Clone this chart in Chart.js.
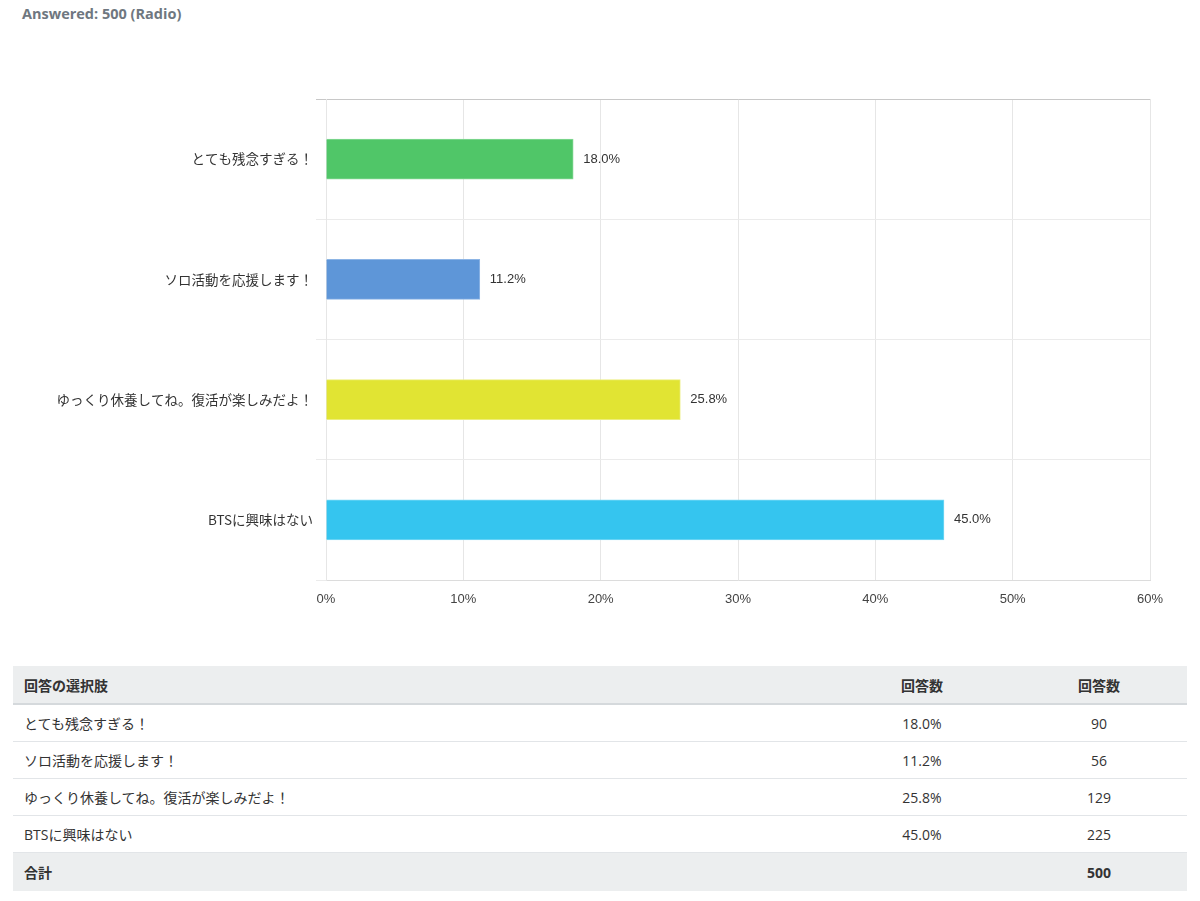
<!DOCTYPE html>
<html>
<head>
<meta charset="utf-8">
<script src="https://cdn.jsdelivr.net/npm/chart.js@4/dist/chart.umd.min.js"></script>
<style>
  body { margin: 0; background: #fff; font-family: "Open Sans", "Noto Sans CJK JP", sans-serif; }
  .answered { position: absolute; left: 22px; top: 4px; font-size: 14.5px; font-weight: bold; color: #6f7780; }
  .chart-box { position: absolute; left: 0; top: 80px; width: 1200px; height: 540px; }
  table { position: absolute; left: 13px; top: 666px; width: 1174px; border-collapse: collapse; table-layout: fixed;
          font-family: "Open Sans", "Noto Sans CJK JP", sans-serif; font-size: 14px; color: #333; }
  th, td { height: 36px; padding: 0 11px; border-bottom: 1px solid #e2e5e8; }
  thead th { background: #eceeef; font-weight: bold; border-bottom: 2px solid #d5d9dc; height: 37px; }
  tfoot td { background: #eceeef; font-weight: bold; border-bottom: none; height: 38px; }
  .l { text-align: left; }
  .c { text-align: center; }
</style>
</head>
<body>
<div class="answered">Answered: 500 (Radio)</div>
<div class="chart-box"><canvas id="bar-answers"></canvas></div>
<table id="answers-table">
  <colgroup><col style="width:820px"><col style="width:178px"><col style="width:176px"></colgroup>
  <thead><tr><th class="l">回答の選択肢</th><th class="c">回答数</th><th class="c">回答数</th></tr></thead>
  <tbody></tbody>
  <tfoot><tr><td class="l">合計</td><td></td><td class="c" id="total"></td></tr></tfoot>
</table>
<script>
const answerLabels = ['とても残念すぎる！', 'ソロ活動を応援します！', 'ゆっくり休養してね。復活が楽しみだよ！', 'BTSに興味はない'];
const answerPercents = [18.0, 11.2, 25.8, 45.0];
const answerCounts = [90, 56, 129, 225];
const BAR_COLORS = ['#50c668', '#5e96d8', '#e1e433', '#35c5ef'];
const BAR_BORDERS = ['#86d896', '#8db5e5', '#ecee7c', '#7ad8f4'];

// value labels to the right of each bar
const valueLabels = {
    id: 'valueLabels',
    afterDatasetsDraw(chart) {
        const ctx = chart.ctx;
        const meta = chart.getDatasetMeta(0);
        ctx.save();
        ctx.font = '13px "Liberation Sans", Arial, sans-serif';
        ctx.fillStyle = '#333';
        ctx.textAlign = 'left';
        ctx.textBaseline = 'middle';
        meta.data.forEach((bar, i) => {
            ctx.fillText(answerPercents[i].toFixed(1) + '%', bar.x + 10, bar.y);
        });
        ctx.restore();
    }
};

const barAnswers = document.getElementById('bar-answers');
new Chart(barAnswers, {
    type: 'bar',
    data: {
        labels: answerLabels,
        datasets: [{
            data: answerPercents,
            backgroundColor: BAR_COLORS,
            borderColor: BAR_BORDERS,
            borderWidth: 1,
            barThickness: 40,
        }]
    },
    options: {
        indexAxis: 'y',
        responsive: true,
        maintainAspectRatio: false,
        animation: false,
        layout: { padding: { top: 19, right: 50, left: 0, bottom: 0 } },
        plugins: {
            legend: { display: false },
            tooltip: { enabled: false },
        },
        scales: {
            x: {
                min: 0,
                max: 60,
                ticks: {
                    stepSize: 10,
                    padding: 12,
                    color: '#444',
                    font: { size: 13, family: '"Liberation Sans", Arial, sans-serif' },
                    callback: v => v + '%'
                },
                grid: { color: '#e6e6e6', drawTicks: false },
                border: { color: '#dcdcdc' },
                afterFit: s => { s.height = 40; }
            },
            y: {
                ticks: {
                    color: '#333',
                    font: { size: 13.5, family: '"Noto Sans CJK JP", sans-serif' },
                    padding: 3
                },
                grid: {
                    color: c => c.index === 0 ? '#c8c8c8' : '#ebebeb',
                    tickLength: 10
                },
                border: { color: '#e6e6e6' },
                afterFit: s => { s.width = 326; }
            }
        }
    },
    plugins: [valueLabels]
});

// table below the chart
const tbody = document.querySelector('#answers-table tbody');
answerLabels.forEach((label, i) => {
    const tr = document.createElement('tr');
    tr.innerHTML = '<td class="l">' + label + '</td><td class="c">' + answerPercents[i].toFixed(1) + '%</td><td class="c">' + answerCounts[i] + '</td>';
    tbody.appendChild(tr);
});
document.getElementById('total').textContent = answerCounts.reduce((a, b) => a + b, 0);
</script>
</body>
</html>
